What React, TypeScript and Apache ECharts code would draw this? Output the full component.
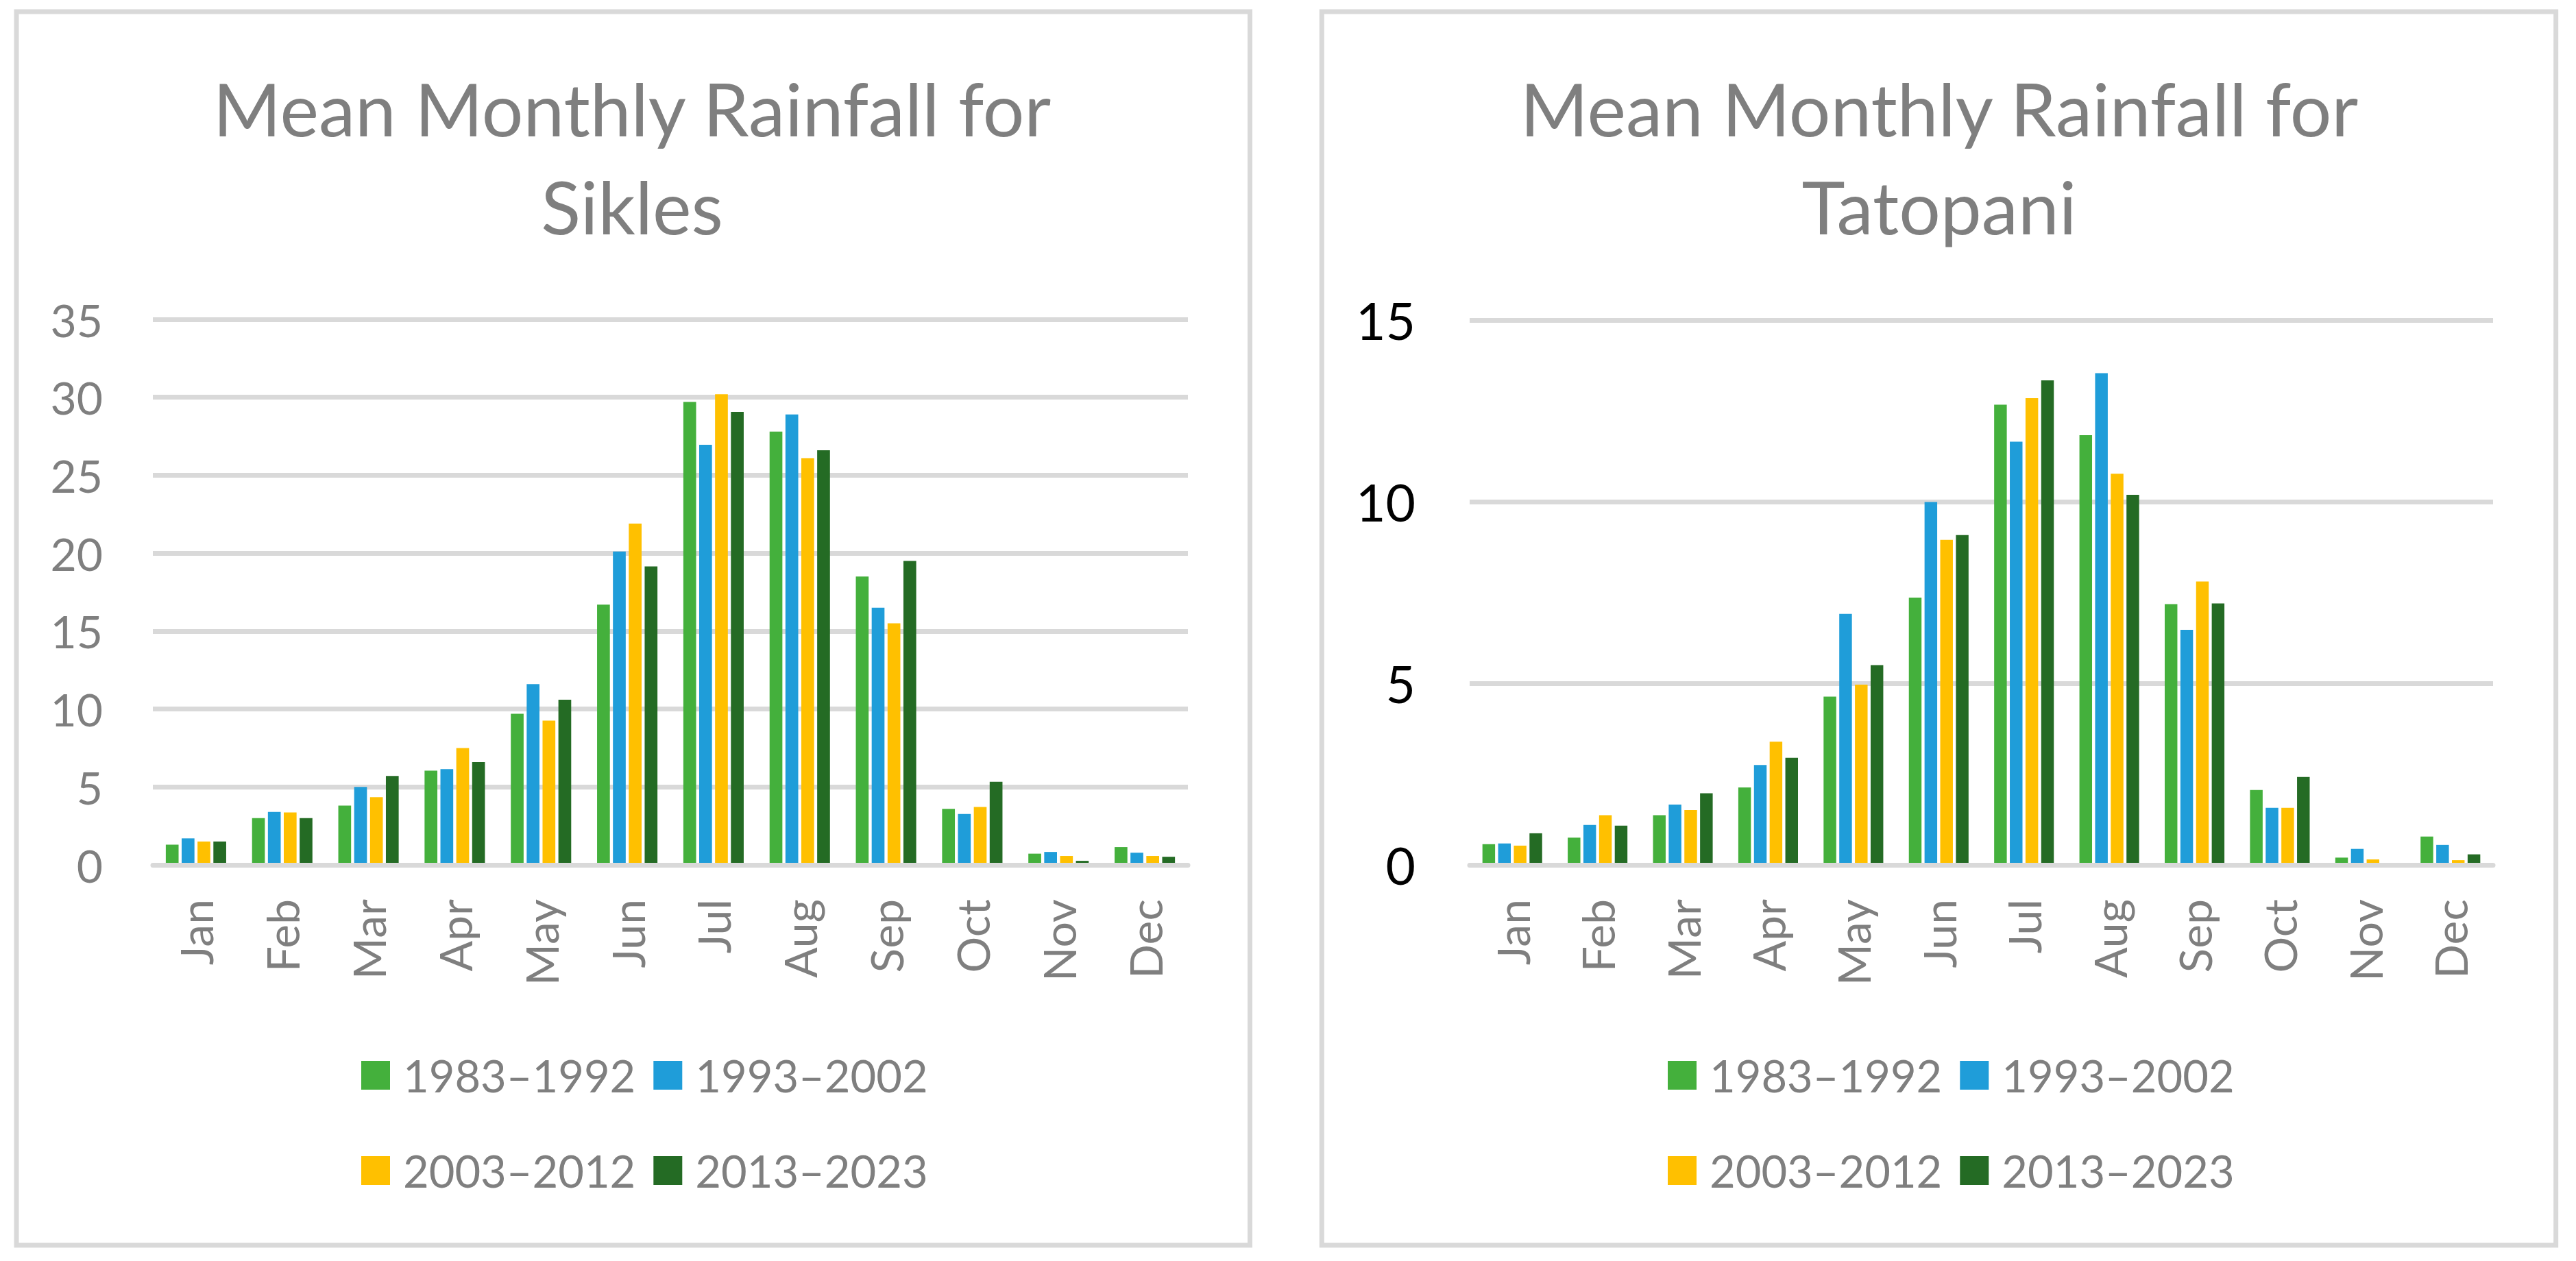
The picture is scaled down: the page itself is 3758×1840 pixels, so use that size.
import React, { useEffect, useRef } from "react";
import * as echarts from "echarts";

const MONTHS = ["Jan", "Feb", "Mar", "Apr", "May", "Jun", "Jul", "Aug", "Sep", "Oct", "Nov", "Dec"];
const PERIODS = ["1983–1992", "1993–2002", "2003–2012", "2013–2023"];
const COLORS = ["#44b03c", "#1f9dd9", "#ffc000", "#246b24"];

const SIKLES_1983_1992 = [1.3, 3.0, 3.8, 6.05, 9.7, 16.7, 29.7, 27.8, 18.5, 3.6, 0.72, 1.14];
const SIKLES_1993_2002 = [1.7, 3.4, 5.0, 6.15, 11.6, 20.1, 26.95, 28.9, 16.5, 3.26, 0.83, 0.78];
const SIKLES_2003_2012 = [1.5, 3.36, 4.34, 7.5, 9.26, 21.9, 30.2, 26.1, 15.5, 3.72, 0.57, 0.57];
const SIKLES_2013_2023 = [1.5, 3.0, 5.7, 6.6, 10.6, 19.15, 29.06, 26.6, 19.5, 5.33, 0.26, 0.52];

const TATOPANI_1983_1992 = [0.57, 0.75, 1.37, 2.13, 4.63, 7.36, 12.67, 11.83, 7.18, 2.06, 0.2, 0.78];
const TATOPANI_1993_2002 = [0.59, 1.1, 1.66, 2.75, 6.91, 9.99, 11.65, 13.54, 6.47, 1.57, 0.44, 0.55];
const TATOPANI_2003_2012 = [0.53, 1.37, 1.51, 3.39, 4.96, 8.95, 12.85, 10.77, 7.8, 1.57, 0.15, 0.13];
const TATOPANI_2013_2023 = [0.87, 1.08, 1.97, 2.95, 5.5, 9.08, 13.34, 10.19, 7.2, 2.42, 0, 0.29];

const SIKLES_TICKS = { min: 0, max: 35, interval: 5 };
const TATOPANI_TICKS = { min: 0, max: 15, interval: 5 };

const TITLE_SIKLES = "Mean Monthly Rainfall for\nSikles";
const TITLE_TATOPANI = "Mean Monthly Rainfall for\nTatopani";

const FONT = "Lato";
const GRAY = "#7f7f7f";
const LINE = "#d9d9d9";

export default function App() {
  const ref = useRef<HTMLDivElement>(null);

  useEffect(() => {
    if (!ref.current) return;
    const chart = echarts.init(ref.current, undefined, { renderer: "svg" });

    const sikles = [SIKLES_1983_1992, SIKLES_1993_2002, SIKLES_2003_2012, SIKLES_2013_2023];
    const tatopani = [TATOPANI_1983_1992, TATOPANI_1993_2002, TATOPANI_2003_2012, TATOPANI_2013_2023];

    const makeSeries = (sets: number[][], idx: number) =>
      sets.map((d, i) => ({
        type: "bar",
        name: PERIODS[i],
        xAxisIndex: idx,
        yAxisIndex: idx,
        data: d,
        itemStyle: { color: COLORS[i] },
        barGap: "24%",
        barCategoryGap: "30%",
      }));

    const xAxis = (gridIndex: number) => ({
      type: "category",
      gridIndex,
      data: MONTHS,
      z: 5,
      axisTick: { show: false },
      axisLine: { show: true, lineStyle: { color: LINE, width: 7 } },
      axisLabel: {
        rotate: 90,
        margin: 50,
        color: GRAY,
        fontFamily: FONT,
        fontSize: 66,
      },
    });

    const yAxis = (gridIndex: number, ticks: any, color: string, fontSize: number, margin: number) => ({
      type: "value",
      gridIndex,
      min: ticks.min,
      max: ticks.max,
      interval: ticks.interval,
      axisLine: { show: false },
      axisTick: { show: false },
      splitLine: { show: true, lineStyle: { color: LINE, width: 7 } },
      axisLabel: { color, fontFamily: FONT, fontSize, margin },
    });

    const legend = (names: string[], left: number, top: number) => ({
      data: names,
      left,
      top,
      orient: "horizontal",
      icon: "rect",
      itemWidth: 42,
      itemHeight: 42,
      itemGap: 26,
      padding: 0,
      selectedMode: false,
      textStyle: {
        color: GRAY,
        fontFamily: FONT,
        fontSize: 65,
        lineHeight: 66,
        padding: [0, 0, 0, 14],
      },
    });

    const titleStyle = {
      color: GRAY,
      fontFamily: FONT,
      fontSize: 107,
      fontWeight: "normal",
      lineHeight: 143,
    };

    chart.setOption({
      animation: false,
      backgroundColor: "#ffffff",
      title: [
        { text: TITLE_SIKLES, left: 922, top: 86, textAlign: "center", padding: 0, textStyle: titleStyle },
        { text: TITLE_TATOPANI, left: 2829, top: 86, textAlign: "center", padding: 0, textStyle: titleStyle },
      ],
      legend: [
        legend([PERIODS[0], PERIODS[1]], 527, 1536),
        legend([PERIODS[2], PERIODS[3]], 527, 1675),
        legend([PERIODS[0], PERIODS[1]], 2433, 1536),
        legend([PERIODS[2], PERIODS[3]], 2433, 1675),
      ],
      grid: [
        { left: 223, top: 466, width: 1510, height: 796, containLabel: false },
        { left: 2144, top: 467, width: 1493, height: 795, containLabel: false },
      ],
      xAxis: [xAxis(0), xAxis(1)],
      yAxis: [
        yAxis(0, SIKLES_TICKS, GRAY, 66, 73),
        yAxis(1, TATOPANI_TICKS, "#000000", 75, 79),
      ],
      graphic: [
        {
          type: "rect",
          shape: { x: 24, y: 17, width: 1799.5, height: 1800 },
          style: { fill: "none", stroke: LINE, lineWidth: 7 },
          silent: true,
        },
        {
          type: "rect",
          shape: { x: 1928.3, y: 17, width: 1800.4, height: 1800 },
          style: { fill: "none", stroke: LINE, lineWidth: 7 },
          silent: true,
        },
      ],
      series: [...makeSeries(sikles, 0), ...makeSeries(tatopani, 1)],
    });

    return () => chart.dispose();
  }, []);

  return (
    <div
      ref={ref}
      style={{ position: "absolute", left: 0, top: 0, width: 3758, height: 1840, background: "#fff" }}
    />
  );
}
